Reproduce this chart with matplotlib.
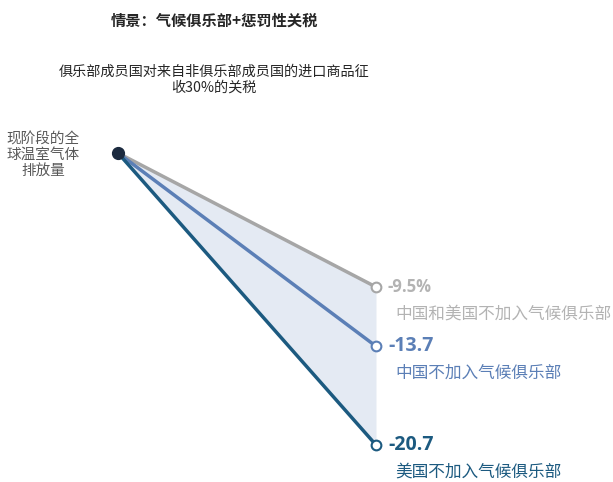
import matplotlib
matplotlib.use("Agg")
import matplotlib.pyplot as plt

plt.rcParams['font.family'] = ['Noto Sans CJK SC', 'DejaVu Sans']

# Data
start_value = 0.0
series_values = [-9.5, -13.7, -20.7]
value_labels = ["-9.5%", "-13.7", "-20.7"]
series_names = ["中国和美国不加入气候俱乐部", "中国不加入气候俱乐部", "美国不加入气候俱乐部"]
title = "情景：气候俱乐部+惩罚性关税"
subtitle = "俱乐部成员国对来自非俱乐部成员国的进口商品征\n收30%的关税"
start_label = "现阶段的全\n球温室气体\n排放量"

line_colors = ["#a6a6a6", "#5b7fb6", "#1c5a80"]
label_colors = ["#b3b3b3", "#5b7fb6", "#1c5a80"]
value_sizes = [12, 14, 14]

W, H = 613, 482
fig = plt.figure(figsize=(W / 100, H / 100), dpi=100)
fig.patch.set_facecolor("white")

# axes mapped so x=0 -> px 118, x=1 -> px 376 ; y=0 -> px 153, y=-20.7 -> px 445
ax = fig.add_axes([118 / W, (H - 445) / H, (376 - 118) / W, (445 - 153) / H])
ax.set_xlim(0, 1)
ax.set_ylim(min(series_values), start_value)
ax.axis("off")

xs = [0, 1]
ax.fill_between(xs, [start_value, series_values[0]], [start_value, series_values[-1]],
                color="#e4eaf3", zorder=1, linewidth=0, clip_on=False)

for v, c in zip(series_values, line_colors):
    ax.plot(xs, [start_value, v], color=c, lw=2.5, zorder=3, clip_on=False,
            solid_capstyle="round")
    ax.plot([1], [v], marker="o", ms=7, mfc="white", mec=c, mew=1.5, zorder=5, clip_on=False)

ax.plot([0], [start_value], marker="o", ms=8.5, color="#1b2a3f", zorder=6, clip_on=False)

# Labels at end points
for v, lab, name, c, lc, fs in zip(series_values, value_labels, series_names,
                                    line_colors, label_colors, value_sizes):
    ax.annotate(lab, xy=(1, v), xytext=(12, 0), textcoords="offset pixels",
                ha="left", va="center", fontsize=fs, fontweight="bold", color=lc,
                family=["Open Sans", "Noto Sans CJK SC"], annotation_clip=False)
    ax.annotate(name, xy=(1, v), xytext=(19, -27), textcoords="offset pixels",
                ha="left", va="center", fontsize=12, color=lc, annotation_clip=False)

# Titles
fig.text(214 / W, 1 - 21 / H, title, ha="center", va="center", fontsize=11,
         fontweight="bold", color="#262626")
fig.text(214 / W, 1 - 80 / H, subtitle, ha="center", va="center", fontsize=10.2,
         color="#262626", linespacing=1.2)
fig.text(43 / W, 1 - 155 / H, start_label, ha="center", va="center", fontsize=10.5,
         color="#595959", linespacing=1.15)

fig.savefig("out.png", dpi=100, facecolor="white")
